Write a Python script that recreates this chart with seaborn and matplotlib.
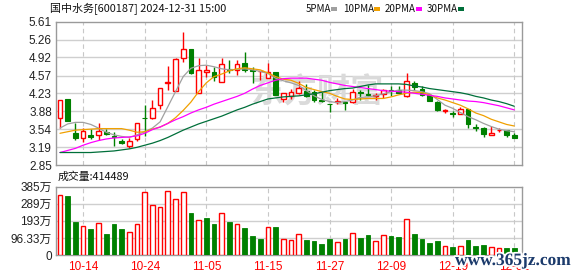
import numpy as np
import pandas as pd
import matplotlib
matplotlib.use("Agg")
import matplotlib.pyplot as plt
import matplotlib.patheffects as pe
from matplotlib.patches import Rectangle
import seaborn as sns

# ---------------- data ----------------
dates = ["10-09", "10-10", "10-11", "10-14", "10-15", "10-16", "10-17", "10-18",
         "10-21", "10-22", "10-23", "10-24", "10-25", "10-28", "10-29", "10-30",
         "10-31", "11-01", "11-04", "11-05", "11-06", "11-07", "11-08", "11-11",
         "11-12", "11-13", "11-14", "11-15", "11-18", "11-19", "11-20", "11-21",
         "11-22", "11-25", "11-26", "11-27", "11-28", "11-29", "12-02", "12-03",
         "12-04", "12-05", "12-06", "12-09", "12-10", "12-11", "12-12", "12-13",
         "12-16", "12-17", "12-18", "12-19", "12-20", "12-23", "12-24", "12-25",
         "12-26", "12-27", "12-30", "12-31"]
tick_dates = ["10-14", "10-24", "11-05", "11-15", "11-27", "12-09", "12-19", "12-31"]

open_ = [3.75, 4.12, 3.46, 3.36, 3.43, 3.42, 3.48, 3.40, 3.31, 3.21,
         3.35, 3.76, 3.75, 4.00, 4.43, 4.28, 4.90, 5.09, 4.24, 4.63,
         4.64, 4.45, 4.69, 4.68, 4.82, 4.68, 4.65, 4.53, 4.63, 4.12,
         4.18, 4.24, 4.27, 4.25, 4.10, 4.03, 4.07, 4.06, 4.07, 4.25,
         4.21, 4.18, 4.22, 4.29, 4.30, 4.18, 4.43, 4.31, 4.20, 4.07,
         3.89, 3.84, 3.83, 3.92, 3.58, 3.57, 3.42, 3.52, 3.53, 3.42]
high = [4.10, 4.12, 3.65, 3.57, 3.55, 3.65, 3.55, 3.48, 3.35, 3.36,
        3.65, 4.00, 4.10, 4.33, 4.76, 4.90, 5.40, 5.09, 4.90, 4.78,
        4.74, 4.90, 4.87, 4.87, 5.03, 4.73, 4.66, 4.81, 4.64, 4.23,
        4.32, 4.47, 4.40, 4.29, 4.26, 4.03, 4.13, 4.07, 4.32, 4.29,
        4.39, 4.23, 4.32, 4.37, 4.37, 4.62, 4.47, 4.36, 4.21, 4.09,
        3.93, 3.88, 3.96, 3.93, 3.63, 3.59, 3.60, 3.57, 3.53, 3.47]
low = [3.56, 3.70, 3.34, 3.30, 3.35, 3.34, 3.42, 3.21, 3.26, 3.18,
       3.32, 3.40, 3.73, 3.92, 4.29, 4.27, 4.84, 4.60, 4.23, 4.55,
       4.46, 4.44, 4.62, 4.58, 4.63, 4.43, 4.48, 4.52, 4.19, 4.07,
       4.12, 4.21, 4.15, 4.07, 4.07, 3.86, 4.03, 3.90, 4.05, 4.10,
       4.17, 4.10, 4.14, 4.18, 4.23, 4.15, 4.29, 4.17, 4.08, 3.88,
       3.85, 3.78, 3.83, 3.57, 3.50, 3.39, 3.42, 3.48, 3.39, 3.36]
close = [4.10, 3.70, 3.36, 3.51, 3.38, 3.50, 3.45, 3.39, 3.28, 3.31,
         3.65, 3.75, 3.94, 4.33, 4.45, 4.88, 5.09, 4.62, 4.68, 4.67,
         4.55, 4.80, 4.68, 4.80, 4.68, 4.66, 4.66, 4.64, 4.20, 4.23,
         4.26, 4.33, 4.18, 4.10, 4.08, 4.02, 4.08, 4.05, 4.25, 4.24,
         4.20, 4.20, 4.30, 4.28, 4.24, 4.47, 4.35, 4.19, 4.09, 3.90,
         3.90, 3.83, 3.93, 3.63, 3.57, 3.45, 3.47, 3.53, 3.42, 3.36]

ma5 = [3.56, 3.64, 3.67, 3.67, 3.63, 3.56, 3.48, 3.43, 3.40, 3.38,
       3.43, 3.49, 3.56, 3.68, 3.97, 4.26, 4.55, 4.71, 4.76, 4.77,
       4.74, 4.70, 4.68, 4.69, 4.70, 4.68, 4.65, 4.61, 4.52, 4.47,
       4.43, 4.38, 4.28, 4.18, 4.11, 4.07, 4.05, 4.07, 4.10, 4.15,
       4.16, 4.18, 4.22, 4.26, 4.29, 4.29, 4.28, 4.26, 4.22, 4.11,
       4.00, 3.94, 3.86, 3.78, 3.72, 3.65, 3.59, 3.54, 3.51, 3.49]
ma10 = [3.46, 3.49, 3.52, 3.53, 3.54, 3.55, 3.55, 3.55, 3.55, 3.52,
        3.48, 3.49, 3.54, 3.58, 3.65, 3.76, 3.90, 4.06, 4.26, 4.43,
        4.55, 4.60, 4.66, 4.70, 4.72, 4.70, 4.68, 4.62, 4.55, 4.50,
        4.48, 4.42, 4.34, 4.30, 4.26, 4.23, 4.17, 4.12, 4.11, 4.12,
        4.13, 4.13, 4.13, 4.16, 4.20, 4.23, 4.25, 4.24, 4.20, 4.14,
        4.10, 4.05, 4.00, 3.93, 3.85, 3.80, 3.73, 3.68, 3.63, 3.60]
ma20 = [3.09, 3.13, 3.17, 3.23, 3.28, 3.32, 3.35, 3.37, 3.38, 3.39,
        3.41, 3.46, 3.53, 3.58, 3.65, 3.72, 3.78, 3.85, 3.91, 3.96,
        4.02, 4.07, 4.12, 4.17, 4.23, 4.31, 4.38, 4.43, 4.48, 4.51,
        4.52, 4.52, 4.52, 4.50, 4.48, 4.44, 4.41, 4.38, 4.36, 4.34,
        4.32, 4.30, 4.28, 4.27, 4.26, 4.25, 4.23, 4.21, 4.19, 4.17,
        4.14, 4.12, 4.10, 4.08, 4.07, 4.05, 4.02, 3.99, 3.95, 3.91]
ma30 = [3.09, 3.09, 3.09, 3.09, 3.09, 3.10, 3.11, 3.12, 3.14, 3.16,
        3.19, 3.23, 3.27, 3.32, 3.38, 3.45, 3.52, 3.58, 3.64, 3.69,
        3.74, 3.79, 3.85, 3.91, 3.96, 4.02, 4.07, 4.12, 4.14, 4.16,
        4.17, 4.18, 4.20, 4.22, 4.25, 4.28, 4.30, 4.32, 4.33, 4.36,
        4.39, 4.41, 4.41, 4.41, 4.41, 4.40, 4.37, 4.35, 4.32, 4.30,
        4.28, 4.26, 4.24, 4.21, 4.17, 4.14, 4.10, 4.07, 4.03, 3.98]

volume = [338, 334, 188, 163, 146, 178, 118, 175, 146, 128,
          173, 353, 282, 269, 361, 315, 353, 235, 197, 207,
          175, 235, 184, 173, 154, 107, 90, 160, 156, 90,
          83, 116, 84, 79, 62, 90, 71, 90, 122, 98,
          113, 79, 113, 107, 101, 203, 118, 90, 68, 79,
          51, 47, 51, 84, 53, 56, 45, 39, 41, 41.4489]  # 万
vol_up = [1, 0, 0, 1, 0, 1, 0, 0, 0, 1,
          1, 1, 1, 1, 1, 1, 1, 0, 1, 0,
          0, 1, 0, 1, 0, 0, 0, 1, 0, 1,
          1, 1, 0, 0, 0, 0, 1, 0, 1, 0,
          0, 1, 1, 0, 0, 1, 0, 0, 0, 0,
          1, 0, 1, 0, 0, 0, 1, 1, 0, 0]

price_ticks = ["2.85", "3.19", "3.54", "3.88", "4.23", "4.57", "4.92", "5.26", "5.61"]
vol_ticks = [0, 96.33, 193, 289, 385]
vol_tick_labels = ["0", "96.33万", "193万", "289万", "385万"]
ma_names = ["5PMA", "10PMA", "20PMA", "30PMA"]
ma_colors = ["#a0a0a0", "#f0a000", "#ff00ff", "#006f3a"]
title = "国中水务[600187] 2024-12-31 15:00"
vol_title = "成交量:414489"

# ---------------- style ----------------
sns.set_theme(style="white")
plt.rcParams["font.family"] = ["Liberation Sans", "Noto Sans CJK SC", "DejaVu Sans"]

RED = "#ff0000"
GREEN = "#008000"
GRID = "#cfcfcf"
SPINE = "#9a9a9a"

W, H = 578, 276
fig = plt.figure(figsize=(W / 100, H / 100), dpi=100)
fig.patch.set_facecolor("white")

def fx(px):
    return px / W

def fy(py):
    return 1 - py / H

ax = fig.add_axes([fx(56), fy(165), fx(522) - fx(56), fy(21.5) - fy(165)])
axv = fig.add_axes([fx(56), fy(255), fx(522) - fx(56), fy(186.7) - fy(255)])

n = len(dates)
x = np.arange(n)
o = np.array(open_); c = np.array(close); hi = np.array(high); lo = np.array(low)
up = c >= o
tick_pos = [dates.index(d) for d in tick_dates]

for a in (ax, axv):
    a.set_facecolor("white")
    for s in a.spines.values():
        s.set_color(SPINE)
        s.set_linewidth(1.0)
    for p in tick_pos:
        a.axvline(p, color="#c8c8c8", lw=0.8, ls=(0, (4, 3)), zorder=0.6)
    a.set_xlim(-0.52, 60.0)
    a.tick_params(length=0)

# price grid
pt = [float(t) for t in price_ticks]
for v in pt[1:-1]:
    ax.axhline(v, color=GRID, lw=1.0, zorder=0.5)
ax.set_ylim(2.85, 5.61)
ax.set_yticks(pt)
ax.set_yticklabels(price_ticks, fontsize=8.5, color="#222222")
ax.tick_params(axis="y", pad=3)
ax.set_xticks([])

# watermark
ax.text(0.56, 0.5, "东方财富", transform=ax.transAxes, fontsize=24, color="#dadada",
        ha="center", va="center", fontweight="bold", zorder=0.7,
        family=["Noto Sans CJK SC", "DejaVu Sans"])

# candles: wicks
cols = np.where(up, RED, GREEN)
ax.vlines(x, lo, hi, colors=cols, lw=1.0, zorder=2)
body_h = np.maximum(np.abs(c - o), 0.012)
body_b = np.minimum(o, c)
bw = 0.6
ax.bar(x[up], body_h[up], bottom=body_b[up], width=bw, facecolor="white",
       edgecolor=RED, linewidth=1.0, zorder=3)
ax.bar(x[~up], body_h[~up], bottom=body_b[~up], width=bw, facecolor=GREEN,
       edgecolor=GREEN, linewidth=0.8, zorder=3)

# moving averages via seaborn
ma_df = pd.DataFrame({"idx": np.tile(x, 4),
                      "value": np.concatenate([ma5, ma10, ma20, ma30]),
                      "ma": np.repeat(ma_names, n)})
sns.lineplot(data=ma_df, x="idx", y="value", hue="ma", palette=dict(zip(ma_names, ma_colors)),
             ax=ax, legend=False, linewidth=0.9, estimator=None, sort=True, zorder=4)
ax.set_xlabel(""); ax.set_ylabel("")
ax.set_xlim(-0.52, 60.0)
ax.set_ylim(2.85, 5.61)

# volume
vu = np.array(vol_up, dtype=bool)
vol = np.array(volume)
for v in vol_ticks[1:-1]:
    axv.axhline(v, color=GRID, lw=1.0, zorder=0.5)
axv.bar(x[vu], vol[vu], width=0.6, facecolor="white", edgecolor=RED, linewidth=1.0, zorder=3)
axv.bar(x[~vu], vol[~vu], width=0.62, facecolor=GREEN, edgecolor=GREEN, linewidth=0.6, zorder=3)
axv.set_ylim(0, 385.3)
axv.set_yticks(vol_ticks)
axv.set_yticklabels(vol_tick_labels, fontsize=8.5, color="#222222")
axv.tick_params(axis="y", pad=3)
axv.set_xticks(tick_pos)
axv.set_xticklabels(tick_dates, fontsize=8.5, color=RED)
axv.tick_params(axis="x", pad=4)

# titles
fig.text(fx(50), fy(9), title, fontsize=7.9, color="#111111", va="center", ha="left",
         family=["Noto Sans CJK SC", "DejaVu Sans"])
fig.text(fx(58), fy(176.5), vol_title, fontsize=7.8, color="#111111", va="center", ha="left",
         family=["Noto Sans CJK SC", "DejaVu Sans"])

# legend
leg_x = [306, 343, 385, 427]
sq_x = [331, 374, 416, 458]
for name, col, tx, sx in zip(ma_names, ma_colors, leg_x, sq_x):
    fig.text(fx(tx), fy(9), name, fontsize=7.0, color="#111111", va="center", ha="left",
             family=["Noto Sans CJK SC", "DejaVu Sans"])
    fig.patches.append(Rectangle((fx(sx), fy(10.5)), fx(5.5), fy(7.5) - fy(10.5),
                                 transform=fig.transFigure, facecolor=col, edgecolor="none"))

# site watermark
fig.text(fx(455), fy(261), "www.365jz.com", fontsize=12.5, color="#1b3a6b",
         fontweight="bold", family=["Liberation Serif", "DejaVu Serif"], va="center", ha="left",
         path_effects=[pe.withStroke(linewidth=2.5, foreground="white")], zorder=10)

fig.savefig("out.png", dpi=100, facecolor="white")
